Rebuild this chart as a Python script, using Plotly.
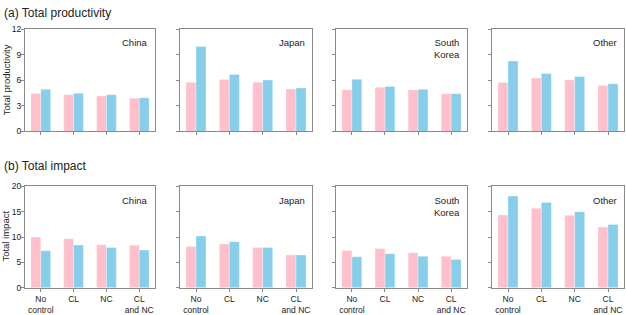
import plotly.graph_objects as go

W, H = 626, 315

regions = ["China", "Japan", "South<br>Korea", "Other"]
categories = ["No<br>control", "CL", "NC", "CL<br>and NC"]

# (a) Total productivity
prod_pink = [
    [4.45, 4.30, 4.15, 3.89],
    [5.77, 6.08, 5.77, 4.98],
    [4.90, 5.17, 4.87, 4.42],
    [5.74, 6.26, 6.04, 5.40],
]
prod_blue = [
    [4.94, 4.49, 4.30, 3.96],
    [9.96, 6.68, 6.04, 5.09],
    [6.11, 5.28, 4.94, 4.42],
    [8.26, 6.79, 6.45, 5.58],
]
# (b) Total impact
imp_pink = [
    [10.03, 9.65, 8.50, 8.38],
    [8.13, 8.63, 7.94, 6.48],
    [7.37, 7.75, 6.92, 6.22],
    [14.35, 15.68, 14.29, 12.00],
]
imp_blue = [
    [7.30, 8.44, 7.94, 7.43],
    [10.22, 9.08, 7.94, 6.48],
    [6.10, 6.73, 6.22, 5.59],
    [18.10, 16.83, 14.98, 12.50],
]

prod_ticks = [0, 3, 6, 9, 12]
imp_ticks = [0, 5, 10, 15, 20]

PINK = "#FFC0CB"
BLUE = "#87CEEB"
SPINE = "#8a8a8a"
FONT = "Liberation Sans, Arial, sans-serif"

col_px = [(25, 155), (180, 312), (336, 467), (492, 624)]
row_px = [(25, 131), (188, 293)]

fig = go.Figure()
layout = dict(
    width=W, height=H, margin=dict(l=0, r=0, t=0, b=0),
    paper_bgcolor="white", plot_bgcolor="white",
    showlegend=False, bargap=0.4, bargroupgap=0,
    font=dict(family=FONT, size=9, color="#222"),
)
annotations = []
xs = list(range(len(categories)))

panels = [(prod_pink, prod_blue, prod_ticks, 12), (imp_pink, imp_blue, imp_ticks, 20)]
idx = 0
for r, (pk, bl, ticks, ymax) in enumerate(panels):
    for c in range(4):
        idx += 1
        xa = "x" if idx == 1 else f"x{idx}"
        ya = "y" if idx == 1 else f"y{idx}"
        fig.add_trace(go.Bar(x=xs, y=pk[c], xaxis=xa, yaxis=ya, width=0.3, offset=-0.3,
                             marker=dict(color=PINK, line=dict(color="rgba(255,255,255,0.5)", width=0.6))))
        fig.add_trace(go.Bar(x=xs, y=bl[c], xaxis=xa, yaxis=ya, width=0.3, offset=0,
                             marker=dict(color=BLUE, line=dict(color="rgba(255,255,255,0.5)", width=0.6))))
        x0, x1 = col_px[c]
        t, b = row_px[r]
        kx = "xaxis" if idx == 1 else f"xaxis{idx}"
        ky = "yaxis" if idx == 1 else f"yaxis{idx}"
        layout[kx] = dict(
            domain=[x0 / W, x1 / W], anchor=ya, range=[-0.48, 3.48],
            tickvals=xs, ticktext=categories if r == 1 else [""] * 4,
            ticks="outside", ticklen=3, tickcolor=SPINE, tickwidth=1,
            showline=True, linecolor=SPINE, linewidth=1, mirror=True,
            showgrid=False, zeroline=False, fixedrange=True,
            tickfont=dict(size=8.5, color="#222"),
        )
        layout[ky] = dict(
            domain=[1 - b / H, 1 - t / H], anchor=xa, range=[0, ymax],
            tickvals=ticks, showticklabels=(c == 0),
            ticks="outside", ticklen=3, tickcolor=SPINE, tickwidth=1,
            showline=True, linecolor=SPINE, linewidth=1, mirror=True,
            showgrid=False, zeroline=False, fixedrange=True,
            ticklabelstandoff=-2,
            tickfont=dict(size=8.5, color="#222"),
        )
        annotations.append(dict(
            text=regions[c], xref=f"{xa} domain", yref=f"{ya} domain",
            x=0.965, y=0.94, xanchor="right", yanchor="top", align="right",
            showarrow=False, font=dict(size=9.5, color="#222"),
        ))

annotations += [
    dict(text="(a) Total productivity", xref="paper", yref="paper", x=2 / W, y=1 - 8 / H,
         xanchor="left", yanchor="middle", showarrow=False, font=dict(size=12, color="#222")),
    dict(text="(b) Total impact", xref="paper", yref="paper", x=2 / W, y=1 - 167 / H,
         xanchor="left", yanchor="middle", showarrow=False, font=dict(size=12, color="#222")),
    dict(text="Total productivity", xref="paper", yref="paper", x=6 / W, y=1 - 78 / H,
         xanchor="center", yanchor="middle", textangle=-90, showarrow=False,
         font=dict(size=9.5, color="#222")),
    dict(text="Total impact", xref="paper", yref="paper", x=6 / W, y=1 - 240 / H,
         xanchor="center", yanchor="middle", textangle=-90, showarrow=False,
         font=dict(size=9.5, color="#222")),
]
layout["annotations"] = annotations
fig.update_layout(**layout)
fig.write_html(
    "out.html",
    config={"displayModeBar": False},
    post_script="document.body.style.margin='0';document.body.style.overflow='hidden';",
)
